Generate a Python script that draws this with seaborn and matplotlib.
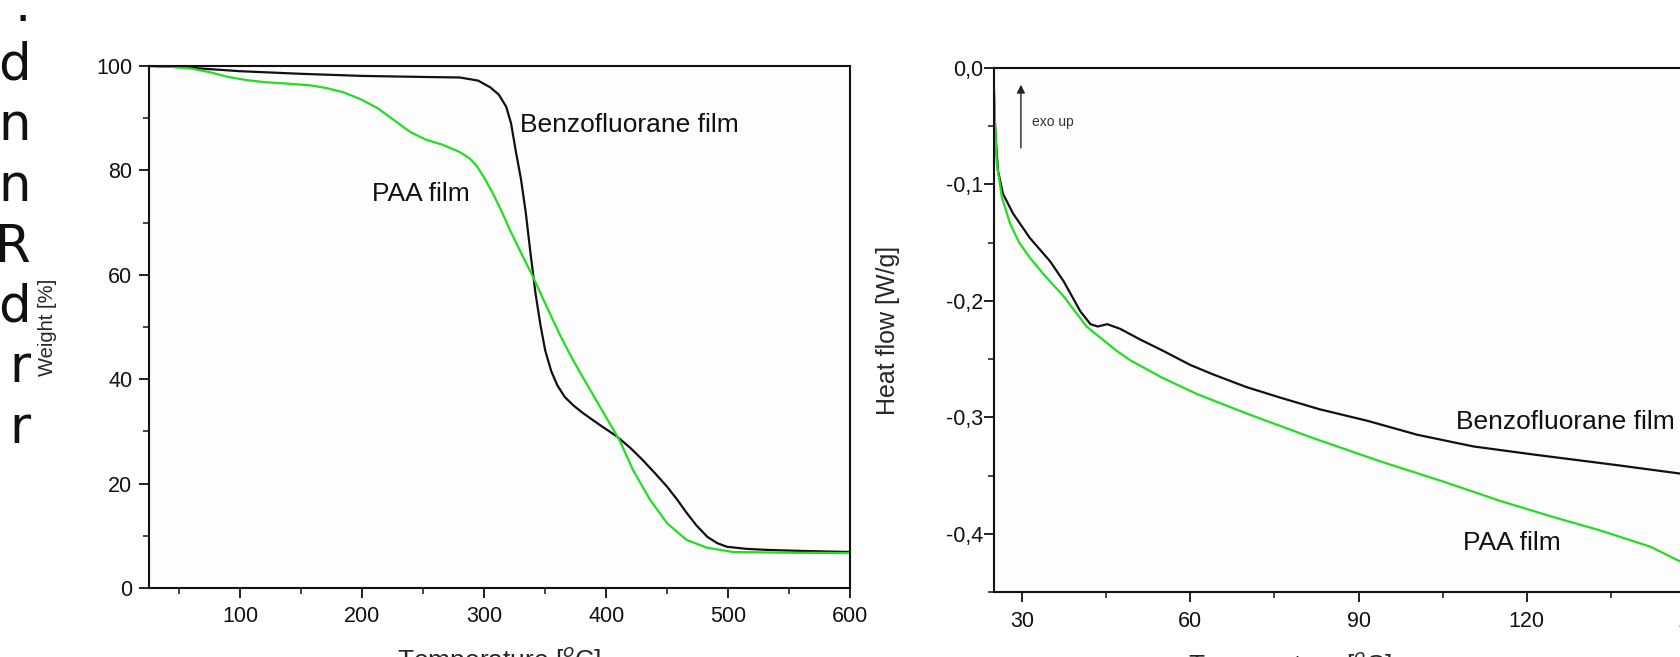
import matplotlib
matplotlib.use("Agg")
import matplotlib.pyplot as plt
import seaborn as sns
from matplotlib.ticker import MultipleLocator, FuncFormatter

# TGA (left panel)
bz_tga_t = [25, 50, 75, 100, 150, 200, 250, 280, 295, 305, 312, 318, 322, 326, 330, 334,
            338, 342, 346, 350, 355, 360, 366, 373, 381, 395, 409, 420, 430, 440, 450,
            458, 466, 474, 483, 491, 499, 515, 532, 560, 600]
bz_tga_w = [100, 99.8, 99.4, 99.0, 98.5, 98.1, 97.9, 97.8, 97.2, 95.9, 94.5, 92.2, 89.0,
            83.5, 78.5, 72.0, 64.0, 56.5, 50.5, 45.5, 41.5, 38.8, 36.6, 35.0, 33.5, 31.2,
            29.0, 26.8, 24.5, 22.0, 19.4, 17.0, 14.4, 12.0, 9.8, 8.6, 7.9, 7.5, 7.3, 7.1, 6.9]
paa_tga_t = [25, 40, 60, 75, 90, 105, 120, 140, 157, 170, 184, 198, 212, 225, 239, 252,
             266, 280, 288, 294, 300, 307, 314, 321, 330, 340, 350, 362, 372, 381, 395,
             411, 422, 436, 450, 466, 483, 504, 550, 600]
paa_tga_w = [100, 99.9, 99.5, 98.8, 97.9, 97.3, 96.9, 96.6, 96.3, 95.8, 95.0, 93.7, 92.0,
             89.8, 87.4, 85.9, 84.9, 83.5, 82.3, 80.8, 78.6, 75.6, 72.3, 68.6, 64.3, 59.6,
             54.5, 48.5, 44.0, 40.3, 34.7, 28.3, 22.6, 16.9, 12.4, 9.2, 7.7, 6.9, 6.75, 6.7]

# DSC (right panel)
bz_dsc_t = [25.0, 25.1, 25.3, 25.7, 26.6, 28.4, 31.4, 35.0, 37.4, 40.4, 42.2, 43.5, 45.2,
            47.5, 51.0, 55.2, 60.0, 64.0, 70.0, 76.0, 83.0, 91.6, 100.5, 110.5, 121.3,
            136.0, 150.0]
bz_dsc_v = [-0.020, -0.040, -0.060, -0.088, -0.108, -0.125, -0.146, -0.166, -0.183,
            -0.209, -0.220, -0.222, -0.220, -0.224, -0.233, -0.243, -0.255, -0.263,
            -0.274, -0.283, -0.293, -0.303, -0.315, -0.325, -0.332, -0.341, -0.350]
paa_dsc_t = [25.0, 25.2, 25.5, 26.4, 27.9, 29.5, 31.4, 34.0, 37.4, 41.5, 46.9, 49.3, 55.0,
             61.2, 70.2, 82.0, 94.0, 105.0, 115.4, 125.0, 133.0, 142.0, 150.0]
paa_dsc_v = [-0.020, -0.050, -0.082, -0.111, -0.134, -0.150, -0.163, -0.178, -0.196,
             -0.222, -0.243, -0.251, -0.266, -0.280, -0.297, -0.318, -0.338, -0.355,
             -0.372, -0.386, -0.397, -0.411, -0.430]

# cut-off ends of the page text on the left
side_letters = [".", "d", "n", "n", "R", "d", "r", "r"]

BLACK = "#111111"
GREEN = "#22dd22"
W, H = 1680, 657

sns.set_theme(style="ticks")
plt.rcParams["font.family"] = ["Liberation Sans", "DejaVu Sans"]
plt.rcParams["mathtext.fontset"] = "custom"
plt.rcParams["mathtext.rm"] = "Liberation Sans"
plt.rcParams["axes.linewidth"] = 1.5
plt.rcParams["axes.edgecolor"] = "#111111"

fig = plt.figure(figsize=(W / 100, H / 100), dpi=100)
fig.patch.set_facecolor("white")

ax1 = fig.add_axes([149 / W, 1 - 588 / H, 701 / W, 522 / H])
ax2 = fig.add_axes([994 / W, 1 - 592 / H, 701 / W, 524 / H])

# left panel
sns.lineplot(x=bz_tga_t, y=bz_tga_w, ax=ax1, color=BLACK, lw=1.6, sort=False, estimator=None)
sns.lineplot(x=paa_tga_t, y=paa_tga_w, ax=ax1, color=GREEN, lw=1.6, sort=False, estimator=None)
ax1.set_xlim(25, 600)
ax1.set_ylim(0, 100)
ax1.set_xticks([100, 200, 300, 400, 500, 600])
ax1.xaxis.set_minor_locator(MultipleLocator(50))
ax1.yaxis.set_major_locator(MultipleLocator(20))
ax1.yaxis.set_minor_locator(MultipleLocator(10))
ax1.tick_params(which="major", direction="out", length=7, width=1.3, labelsize=15.5,
                colors="#111111")
ax1.tick_params(which="minor", direction="out", length=4.5, width=1.2)
ax1.tick_params(axis="y", pad=5)
ax1.tick_params(axis="x", pad=6)
ax1.set_xlabel(r"Temperature [$^{o}$C]", fontsize=19)
ax1.set_ylabel("Weight [%]", fontsize=14.5)
ax1.xaxis.set_label_coords(0.5, -0.109)
ax1.yaxis.set_label_coords(-0.131, 0.5)
ax1.text(329.5, 87.4, "Benzofluorane film", fontsize=19, color=BLACK)
ax1.text(208, 74.2, "PAA film", fontsize=19, color=BLACK)

# right panel (runs past the right edge of the picture)
sns.lineplot(x=bz_dsc_t, y=bz_dsc_v, ax=ax2, color=BLACK, lw=1.6, sort=False, estimator=None)
sns.lineplot(x=paa_dsc_t, y=paa_dsc_v, ax=ax2, color=GREEN, lw=1.6, sort=False, estimator=None)
ax2.set_xlim(25, 150)
ax2.set_ylim(-0.45, 0.0)
ax2.set_xticks([30, 60, 90, 120, 150])
ax2.xaxis.set_minor_locator(MultipleLocator(15))
ax2.yaxis.set_major_locator(MultipleLocator(0.1))
ax2.yaxis.set_minor_locator(MultipleLocator(0.05))
ax2.yaxis.set_major_formatter(FuncFormatter(lambda v, p: f"{v:.1f}".replace(".", ",")
                                            .replace("-0,0", "0,0")))
ax2.tick_params(which="major", direction="out", length=7, width=1.3, labelsize=15.5,
                colors="#111111")
ax2.tick_params(which="minor", direction="out", length=4.5, width=1.2)
ax2.tick_params(axis="y", pad=1)
ax2.tick_params(axis="x", pad=7)
ax2.set_xlabel(r"Temperature [$^{o}$C]", fontsize=19)
ax2.set_ylabel("Heat flow [W/g]", fontsize=18)
ax2.xaxis.set_label_coords(0.422, -0.111)
ax2.yaxis.set_label_coords(-0.134, 0.5)
ax2.text(107.3, -0.310, "Benzofluorane film", fontsize=19, color=BLACK)
ax2.text(108.7, -0.414, "PAA film", fontsize=19, color=BLACK)
ax2.annotate("", xy=(29.8, -0.012), xytext=(29.8, -0.071),
             arrowprops=dict(arrowstyle="-|>", color="#222222", lw=1.0,
                             mutation_scale=12))
ax2.text(31.8, -0.0495, "exo up", fontsize=10, color="#333333")

for ax in (ax1, ax2):
    for s in ax.spines.values():
        s.set_visible(True)
        s.set_linewidth(1.5)
    ax.set_facecolor("#fdfdfd")

for i, ch in enumerate(side_letters):
    base = 21 if i == 0 else 80 + 60.5 * (i - 1)
    fig.text(31 / W, 1 - base / H, ch, fontsize=37, family=["DejaVu Sans"],
             ha="right", va="baseline", color="#111111")

fig.savefig("out.png", dpi=100)
plt.close(fig)
